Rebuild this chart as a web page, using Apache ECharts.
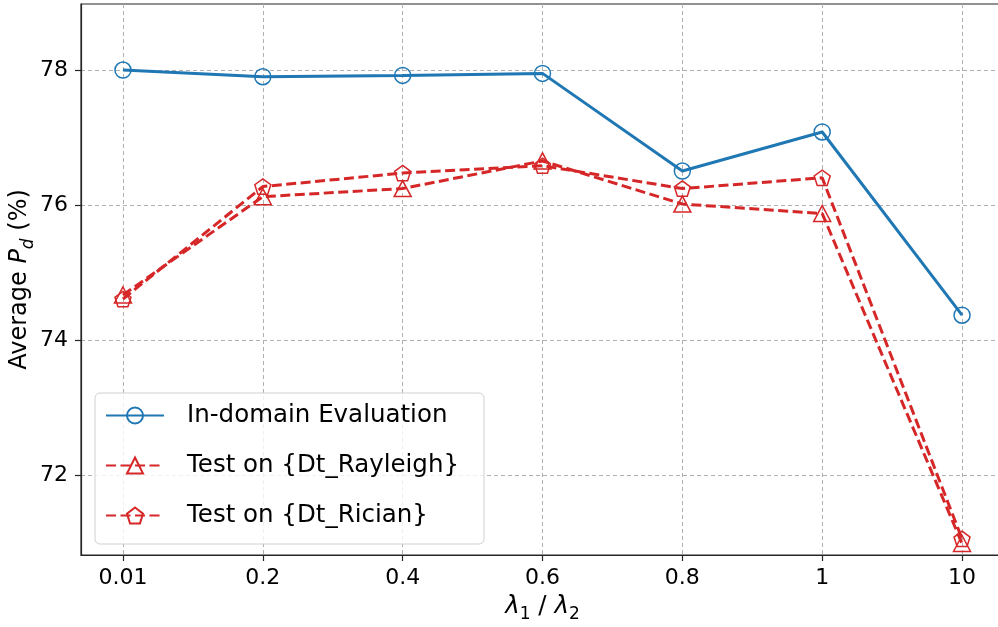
<!DOCTYPE html>
<html>
<head>
<meta charset="utf-8">
<script src="https://cdn.jsdelivr.net/npm/echarts@6/dist/echarts.min.js"></script>
<style>
html, body { margin: 0; padding: 0; background: #fff; overflow: hidden; }
#chart { width: 998px; height: 627px; }
</style>
</head>
<body>
<div id="chart"></div>
<script>
// data
var categories = ["0.01", "0.2", "0.4", "0.6", "0.8", "1", "10"];
var inDomain = [78.01, 77.91, 77.93, 77.96, 76.51, 77.09, 74.37];
var rayleigh = [74.67, 76.13, 76.25, 76.66, 76.02, 75.88, 70.98];
var rician = [74.61, 76.28, 76.48, 76.59, 76.25, 76.41, 71.05];
var yTicks = [72, 74, 76, 78];

var FONT = "DejaVu Sans";
var BLUE = "#1f77b4";
var RED = "#d62728";
var PENTAGON = "path://M0,-1L0.951,-0.309L0.588,0.809L-0.588,0.809L-0.951,-0.309Z";

function toPairs(arr) {
	return arr.map(function(v, i) { return [i, v]; });
}

var xIdx = categories.map(function(c, i) { return i; });

var gridLine = {
	show: true,
	lineStyle: { color: "#b0b0b0", type: [4, 3], width: 1 }
};

var moOptions = {
	animation: false,
	backgroundColor: "#fff",
	textStyle: { fontFamily: FONT },
	grid: {
		left: 81, top: 4, right: -6, bottom: 72,
		containLabel: false,
		outerBoundsMode: "none",
		show: true,
		borderColor: "#262626",
		borderWidth: 1.2
	},
	legend: {
		left: 95, top: 393,
		orient: "vertical",
		padding: [10, 25, 16, 10],
		itemWidth: 58,
		itemHeight: 20,
		itemGap: 25,
		backgroundColor: "rgba(255,255,255,0.8)",
		borderColor: "#d0d0d0",
		borderWidth: 1,
		borderRadius: 5,
		textStyle: { fontFamily: FONT, fontSize: 24.5, color: "#000", padding: [0, 0, 0, 18], lineHeight: 20 },
		data: ["In-domain Evaluation", "Test on {Dt_Rayleigh}", "Test on {Dt_Rician}"]
	},
	xAxis: {
		type: "value",
		min: -0.3,
		max: 6.3,
		name: "{l|λ}{s|1}{n| / }{l|λ}{s|2}",
		nameLocation: "middle",
		nameGap: 36,
		nameMoveOverlap: false,
		nameTextStyle: {
			rich: {
				l: { fontFamily: FONT, fontStyle: "italic", fontSize: 24.5, color: "#000", lineHeight: 32, verticalAlign: "middle" },
				s: { fontFamily: FONT, fontSize: 17, color: "#000", lineHeight: 32, verticalAlign: "bottom" },
				n: { fontFamily: FONT, fontSize: 24.5, color: "#000", lineHeight: 32, verticalAlign: "middle" }
			}
		},
		axisLine: { show: true, onZero: false, lineStyle: { color: "#262626", width: 1.2 } },
		axisTick: { show: true, customValues: xIdx, length: 6, lineStyle: { color: "#262626", width: 1.2 } },
		axisLabel: {
			customValues: xIdx,
			margin: 12,
			fontFamily: FONT,
			fontSize: 22,
			color: "#000",
			formatter: function(v) { return categories[Math.round(v)]; }
		},
		splitLine: gridLine
	},
	yAxis: {
		type: "value",
		min: 70.81,
		max: 78.99,
		name: "{a|Average }{p|P}{d|d}{a| (%)}",
		nameLocation: "middle",
		nameRotate: 90,
		nameGap: 44,
		nameMoveOverlap: false,
		nameTextStyle: {
			rich: {
				a: { fontFamily: FONT, fontSize: 24, color: "#000", lineHeight: 34, verticalAlign: "middle" },
				p: { fontFamily: FONT, fontStyle: "italic", fontSize: 24, color: "#000", lineHeight: 34, verticalAlign: "middle" },
				d: { fontFamily: FONT, fontStyle: "italic", fontSize: 17, color: "#000", lineHeight: 34, verticalAlign: "bottom" }
			}
		},
		axisLine: { show: true, onZero: false, lineStyle: { color: "#262626", width: 1.2 } },
		axisTick: { show: true, customValues: yTicks, length: 6, lineStyle: { color: "#262626", width: 1.2 } },
		axisLabel: {
			customValues: yTicks,
			margin: 13,
			fontFamily: FONT,
			fontSize: 22,
			color: "#000"
		},
		splitLine: gridLine
	},
	series: [
		{
			name: "In-domain Evaluation",
			type: "line",
			data: toPairs(inDomain),
			symbol: "circle",
			symbolSize: 16,
			showAllSymbol: true,
			lineStyle: { color: BLUE, width: 3 },
			itemStyle: { color: "rgba(255,255,255,0)", borderColor: BLUE, borderWidth: 1.5 },
			z: 3
		},
		{
			name: "Test on {Dt_Rayleigh}",
			type: "line",
			data: toPairs(rayleigh),
			symbol: "triangle",
			symbolSize: [17, 16],
			showAllSymbol: true,
			lineStyle: { color: RED, width: 3, type: [10, 4.5] },
			itemStyle: { color: "rgba(255,255,255,0)", borderColor: RED, borderWidth: 1.5 },
			z: 2
		},
		{
			name: "Test on {Dt_Rician}",
			type: "line",
			data: toPairs(rician),
			symbol: PENTAGON,
			symbolSize: 16,
			symbolKeepAspect: true,
			showAllSymbol: true,
			lineStyle: { color: RED, width: 3, type: [10, 4.5] },
			itemStyle: { color: "rgba(255,255,255,0)", borderColor: RED, borderWidth: 1.5 },
			z: 2
		}
	]
};

function drawChart() {
	var voChart = echarts.init(document.getElementById("chart"), null, { renderer: "canvas" });
	voChart.setOption(moOptions);
}

drawChart();
</script>
</body>
</html>
